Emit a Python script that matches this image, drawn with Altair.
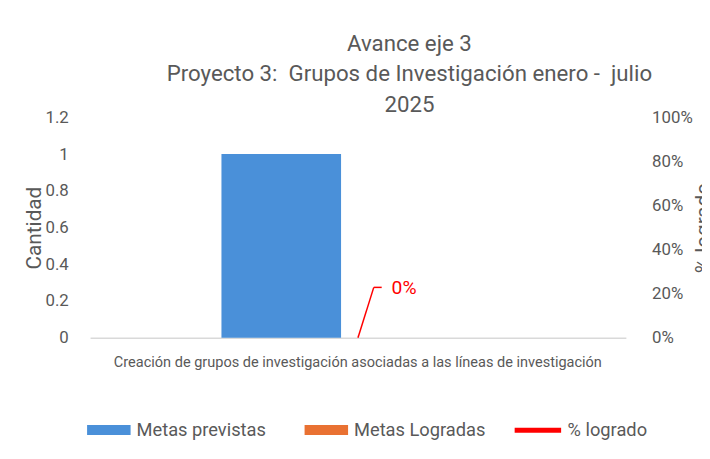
import altair as alt
import pandas as pd

categorias = ["Creación de grupos de investigación asociadas a las líneas de investigación"]
series_barras = ["Metas previstas", "Metas Logradas"]
metas_previstas = [1]
metas_logradas = [0]
serie_linea = ["% logrado"]
pct_logrado = [0.0]
ticks_cantidad = [0, 0.2, 0.4, 0.6, 0.8, 1, 1.2]
ticks_pct = [0, 0.2, 0.4, 0.6, 0.8, 1.0]
colores_barras = ["#4A90D9", "#E97132"]
color_linea = "#FF0000"
titulo = ["Avance eje 3",
          "Proyecto 3:\u00a0 Grupos de Investigación enero -\u00a0 julio",
          "2025"]

FONT = "Roboto"
GRAY = "#595959"

bars_df = pd.DataFrame({
    "categoria": categorias * 2,
    "serie": series_barras,
    "valor": metas_previstas + metas_logradas,
})
line_df = pd.DataFrame({"categoria": categorias, "linea": serie_linea, "pct": pct_logrado})

bars = alt.Chart(bars_df).mark_bar().encode(
    x=alt.X("categoria:N", title=None,
            scale=alt.Scale(paddingInner=0, paddingOuter=0.62, align=0.443),
            axis=alt.Axis(labelAngle=0, labelLimit=700, labelFontSize=14.7, labelColor=GRAY,
                          labelPadding=17, labelOffset=17, ticks=False, domainColor="#D9D9D9",
                          domainWidth=1.5, labelFont=FONT)),
    xOffset=alt.XOffset("serie:N", sort=series_barras,
                        scale=alt.Scale(domain=series_barras, paddingInner=0, paddingOuter=0)),
    y=alt.Y("valor:Q", scale=alt.Scale(domain=[0, 1.2]),
            axis=alt.Axis(values=ticks_cantidad, format="~g", title="Cantidad", grid=False,
                          ticks=False, domain=False, labelPadding=22, labelFontSize=17,
                          labelColor=GRAY, labelFont=FONT, titleFont=FONT, titleFontSize=21,
                          titleFontWeight="normal", titleColor=GRAY, titlePadding=1)),
    color=alt.Color("serie:N", sort=series_barras,
                    scale=alt.Scale(domain=series_barras, range=colores_barras),
                    legend=alt.Legend(orient="none", legendX=-3, legendY=294, direction="horizontal",
                                      title=None, symbolType="M-1,-0.23H1V0.23H-1Z",
                                      symbolSize=1936, symbolStrokeWidth=0, labelFontSize=18.5,
                                      labelColor=GRAY, labelFont=FONT, columnPadding=38,
                                      labelOffset=6)),
)

xl = alt.X("categoria:N", scale=alt.Scale(type="point"), axis=None)
yl = alt.Y("pct:Q", scale=alt.Scale(domain=[0, 1]),
           axis=alt.Axis(orient="right", values=ticks_pct, format=".0%", title="% logrado",
                         grid=False, ticks=False, domain=False, labelPadding=26, labelFontSize=17,
                         labelColor=GRAY, labelFont=FONT, titleFont=FONT, titleFontSize=21,
                         titleFontWeight="normal", titleColor=GRAY, titleAngle=270,
                         titleBaseline="top", titlePadding=0))

line = alt.Chart(line_df).mark_line(strokeWidth=3).encode(
    x=xl, y=yl,
    stroke=alt.Stroke("linea:N", scale=alt.Scale(domain=serie_linea, range=[color_linea]),
                      legend=alt.Legend(orient="none", legendX=427, legendY=290.5, title=None,
                                        symbolType="stroke", symbolSize=2209, symbolStrokeWidth=5,
                                        labelFontSize=18.5, labelColor=GRAY, labelFont=FONT,
                                        labelOffset=4)),
)

rule1 = alt.Chart(line_df).mark_rule(color=color_linea, strokeWidth=1.5, x2Offset=16, y2Offset=-51).encode(
    x=xl, x2=alt.X2("categoria"), y=yl, y2=alt.Y2("pct"))
rule2 = alt.Chart(line_df).mark_rule(color=color_linea, strokeWidth=1.5, xOffset=16, yOffset=-51,
                                     x2Offset=24, y2Offset=-51).encode(
    x=xl, x2=alt.X2("categoria"), y=yl, y2=alt.Y2("pct"))
label = alt.Chart(line_df).mark_text(dx=34, dy=-50, align="left", baseline="middle",
                                     color=color_linea, fontSize=19.5, font=FONT).encode(
    x=xl, y=yl, text=alt.Text("pct:Q", format=".0%"))

chart = alt.layer(bars, alt.layer(line, rule1, rule2, label)).resolve_scale(
    x="independent", y="independent", color="independent", stroke="independent"
).properties(
    width=542, height=223,
    title=alt.Title(titulo, fontSize=22.5, font=FONT, fontWeight="normal", color=GRAY,
                    anchor="middle", dx=52, dy=12, offset=4, lineHeight=31),
    padding={"left": 83, "top": 108, "right": 77, "bottom": 120},
    autosize=alt.AutoSizeParams(type="none"),
    background="white",
).configure_view(stroke=None)

chart.save("out.html", embed_options={"renderer": "svg", "actions": False})
